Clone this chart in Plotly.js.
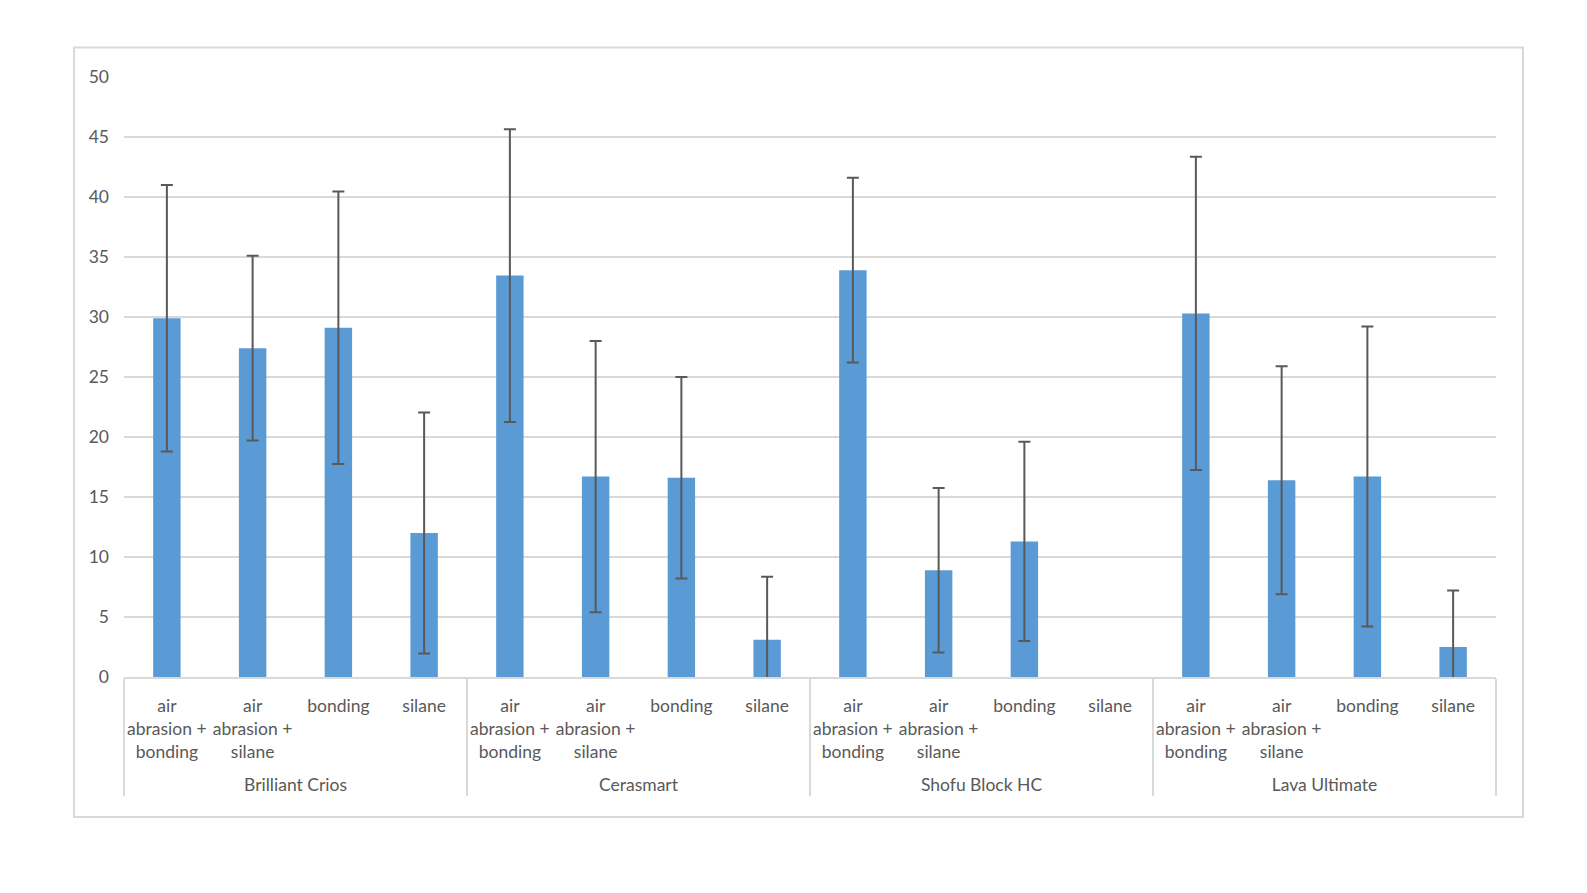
<!DOCTYPE html>
<html>
<head>
<meta charset="utf-8">
<script src="https://cdn.plot.ly/plotly-3.0.1.min.js"></script>
<style>html,body{margin:0;padding:0;background:#fff;overflow:hidden;}#chart{width:1587px;height:893px;}</style>
</head>
<body>
<div id="chart"></div>
<script>
const groups = ["Brilliant Crios", "Cerasmart", "Shofu Block HC", "Lava Ultimate"];
const treatments = [
  "air<br>abrasion +<br>bonding<br> ",
  "air<br>abrasion +<br>silane<br> ",
  "bonding", "silane"
];
const means = [
  29.9, 27.4, 29.1, 12.0,
  33.45, 16.7, 16.6, 3.1,
  33.9, 8.9, 11.3, null,
  30.3, 16.4, 16.7, 2.5
];
const sds = [
  11.1, 7.7, 11.35, 10.05,
  12.2, 11.3, 8.4, 5.25,
  7.7, 6.85, 8.3, null,
  13.05, 9.5, 12.5, 4.7
];
const yTicks = [0, 5, 10, 15, 20, 25, 30, 35, 40, 45, 50];

const xOuter = [], xInner = [];
groups.forEach(g => treatments.forEach(t => { xOuter.push(g); xInner.push(t); }));

const FONT = "Lato, 'Open Sans', sans-serif";

const trace = {
  type: 'bar',
  x: [xOuter, xInner],
  y: means,
  marker: {color: '#5b9bd5'},
  error_y: {type: 'data', array: sds, visible: true, color: '#595959', thickness: 2, width: 6},
  hoverinfo: 'y'
};

const layout = {
  width: 1587, height: 893,
  paper_bgcolor: '#ffffff', plot_bgcolor: '#ffffff',
  margin: {l: 124, r: 91, t: 77, b: 216},
  bargap: 0.68,
  showlegend: false,
  font: {family: FONT, size: 17.5, color: '#595959'},
  xaxis: {
    type: 'multicategory',
    tickangle: 0,
    ticklabelstandoff: 12,
    showline: true, linecolor: '#d9d9d9', linewidth: 2,
    showgrid: false, ticks: '',
    showdividers: true, dividercolor: '#d9d9d9', dividerwidth: 2,
    tickfont: {family: FONT, size: 17.5, color: '#595959'}
  },
  yaxis: {
    range: [0, 50], tickvals: yTicks, ticktext: yTicks.map(String),
    showgrid: true, gridcolor: '#d9d9d9', gridwidth: 2,
    zeroline: false, showline: false, ticks: '',
    ticklabelstandoff: 14,
    tickfont: {family: FONT, size: 17.5, color: '#595959'}
  },
  shapes: [{
    type: 'rect', xref: 'paper', yref: 'paper',
    x0: -0.0364, x1: 1.0197, y0: -0.2333, y1: 1.049,
    line: {color: '#d9d9d9', width: 2}, fillcolor: 'rgba(0,0,0,0)', layer: 'below'
  }]
};

Plotly.newPlot('chart', [trace], layout, {staticPlot: true, displayModeBar: false});
</script>
</body>
</html>
